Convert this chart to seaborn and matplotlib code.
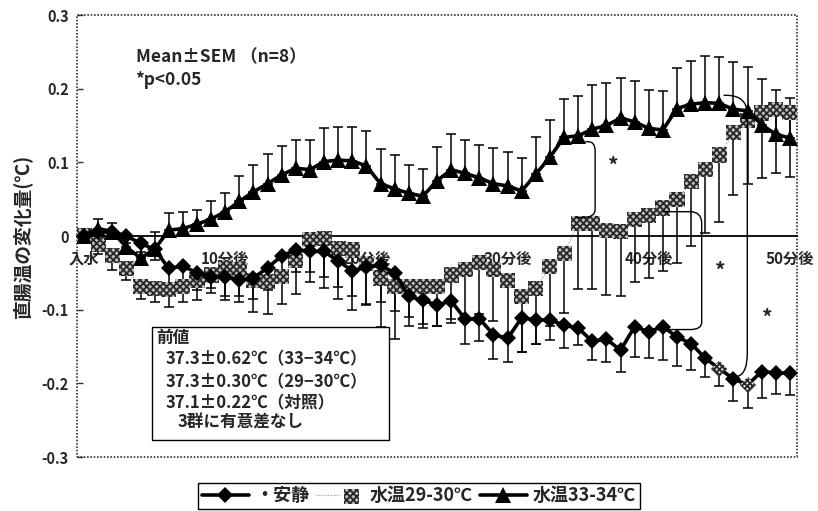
import numpy as np
import pandas as pd
import matplotlib
matplotlib.use("Agg")
import matplotlib.pyplot as plt
from matplotlib.path import Path
from matplotlib.patches import PathPatch, Rectangle
from matplotlib.lines import Line2D
from matplotlib.legend_handler import HandlerTuple
import seaborn as sns

# ---- data: change in rectal temperature (deg C), mean and SEM per minute ----
minutes = list(range(51))

rest_mean = [0.000, 0.005, 0.006, 0.000, -0.010, -0.018, -0.044, -0.041, -0.050, -0.055,
             -0.055, -0.060, -0.057, -0.043, -0.027, -0.019, -0.021, -0.021, -0.034, -0.047,
             -0.042, -0.040, -0.050, -0.082, -0.087, -0.094, -0.088, -0.113, -0.112, -0.134,
             -0.139, -0.111, -0.114, -0.114, -0.121, -0.125, -0.143, -0.140, -0.155, -0.123,
             -0.130, -0.123, -0.137, -0.146, -0.166, -0.180, -0.194, -0.202, -0.184, -0.186,
             -0.186]
rest_sem = [0.005, 0.008, 0.010, 0.010, 0.012, 0.015, 0.020, 0.020, 0.023, 0.016,
            0.032, 0.029, 0.028, 0.030, 0.025, 0.030, 0.028, 0.035, 0.035, 0.034,
            0.050, 0.050, 0.052, 0.028, 0.032, 0.028, 0.030, 0.034, 0.031, 0.033,
            0.032, 0.046, 0.032, 0.027, 0.031, 0.023, 0.025, 0.031, 0.029, 0.041,
            0.036, 0.045, 0.040, 0.036, 0.025, 0.024, 0.030, 0.032, 0.036, 0.028,
            0.030]
rest_patterned = [45, 47]

w29_mean = [0.001, -0.012, -0.026, -0.044, -0.068, -0.071, -0.073, -0.069, -0.060, -0.053,
            -0.043, -0.046, -0.060, -0.062, -0.055, -0.033, -0.005, -0.004, -0.017, -0.019,
            -0.037, -0.057, -0.069, -0.069, -0.069, -0.069, -0.053, -0.045, -0.036, -0.045,
            -0.061, -0.082, -0.071, -0.042, -0.024, 0.017, 0.017, 0.008, 0.006, 0.023,
            0.028, 0.038, 0.049, 0.074, 0.090, 0.110, 0.140, 0.157, 0.167, 0.172,
            0.168]
w29_sem = [0.005, 0.012, 0.020, 0.016, 0.018, 0.018, 0.023, 0.020, 0.027, 0.025,
           0.038, 0.035, 0.043, 0.044, 0.037, 0.046, 0.058, 0.067, 0.068, 0.082,
           0.057, 0.066, 0.071, 0.053, 0.056, 0.053, 0.060, 0.070, 0.070, 0.071,
           0.080, 0.076, 0.075, 0.080, 0.081, 0.089, 0.089, 0.088, 0.087, 0.086,
           0.085, 0.085, 0.085, 0.088, 0.086, 0.091, 0.084, 0.086, 0.088, 0.086,
           0.088]

w33_mean = [0.000, 0.010, 0.006, -0.015, -0.030, -0.018, 0.008, 0.010, 0.016, 0.023,
            0.033, 0.047, 0.060, 0.071, 0.083, 0.092, 0.090, 0.101, 0.103, 0.102,
            0.095, 0.071, 0.064, 0.058, 0.054, 0.075, 0.090, 0.085, 0.079, 0.071,
            0.068, 0.061, 0.084, 0.107, 0.134, 0.136, 0.145, 0.150, 0.160, 0.155,
            0.146, 0.144, 0.173, 0.179, 0.181, 0.180, 0.172, 0.170, 0.151, 0.138,
            0.133]
w33_sem = [0.010, 0.013, 0.012, 0.015, 0.020, 0.024, 0.023, 0.022, 0.019, 0.024,
           0.025, 0.034, 0.036, 0.040, 0.039, 0.038, 0.040, 0.046, 0.045, 0.046,
           0.047, 0.047, 0.046, 0.038, 0.037, 0.046, 0.048, 0.045, 0.045, 0.049,
           0.046, 0.045, 0.050, 0.051, 0.052, 0.054, 0.060, 0.058, 0.055, 0.056,
           0.052, 0.053, 0.055, 0.058, 0.064, 0.063, 0.064, 0.060, 0.062, 0.060,
           0.055]

series_names = ["・安静", "水温29-30℃", "水温33-34℃"]
tick_minutes = [0, 10, 20, 30, 40, 50]
tick_labels = ["入水", "10分後", "20分後", "30分後", "40分後", "50分後"]
y_ticks = [-0.3, -0.2, -0.1, 0.0, 0.1, 0.2, 0.3]
y_tick_labels = ["-0.3", "-0.2", "-0.1", "0", "0.1", "0.2", "0.3"]

# ---- style ----
sns.set_theme(style="white")
plt.rcParams["font.family"] = ["Noto Sans CJK JP", "DejaVu Sans"]
plt.rcParams["font.weight"] = "bold"
plt.rcParams["hatch.color"] = "#262626"
plt.rcParams["hatch.linewidth"] = 1.3

CHECKER = "xxxxx"

fig = plt.figure(figsize=(8.18, 5.11), dpi=100)
ax = fig.add_axes([77 / 818, 54 / 511, 720 / 818, 442 / 511])

df = pd.DataFrame({
    "minute": minutes,
    "rest": rest_mean, "rest_sem": rest_sem,
    "w29": w29_mean, "w29_sem": w29_sem,
    "w33": w33_mean, "w33_sem": w33_sem,
})
zeros = np.zeros(len(df))

# one-sided error bars: rest and 29-30 downward, 33-34 upward
eb_kw = dict(fmt="none", ecolor="black", elinewidth=1.1, capsize=3.3, capthick=1.1, zorder=2)
ax.errorbar(df["minute"], df["rest"], yerr=[df["rest_sem"], zeros], **eb_kw)
ax.errorbar(df["minute"], df["w29"], yerr=[df["w29_sem"], zeros], **eb_kw)
ax.errorbar(df["minute"], df["w33"], yerr=[zeros, df["w33_sem"]], **eb_kw)

# 29-30 deg C: checkered squares on a faint dotted line
sns.lineplot(data=df, x="minute", y="w29", ax=ax, color="#888888", linewidth=0.8,
             linestyle=":", errorbar=None, zorder=3, legend=False)
sns.scatterplot(data=df, x="minute", y="w29", ax=ax, marker="s", s=118,
                facecolor="#bdbdbd", edgecolor="#262626", linewidth=0,
                hatch=CHECKER, zorder=3.2, legend=False)
sq_coll = ax.collections[-1]

# rest: black line with diamonds
sns.lineplot(data=df, x="minute", y="rest", ax=ax, color="black", linewidth=2.6,
             marker="D", markersize=7.8, markeredgewidth=0, errorbar=None,
             zorder=4, legend=False)
df_pat = df[df["minute"].isin(rest_patterned)]
sns.scatterplot(data=df_pat, x="minute", y="rest", ax=ax, marker="D", s=61,
                facecolor="#e0e0e0", edgecolor="#262626", linewidth=0,
                hatch="xxxxxx", zorder=4.2, legend=False)

# 33-34 deg C: black line with triangles
sns.lineplot(data=df, x="minute", y="w33", ax=ax, color="black", linewidth=2.6,
             marker="^", markersize=11, markeredgewidth=0, errorbar=None,
             zorder=5, legend=False)

# ---- axes ----
ax.set_xlim(-0.5, 50.5)
ax.set_ylim(-0.3, 0.3)
ax.set_xlabel("")
ax.set_ylabel("")
for side in ["top", "right", "left"]:
    ax.spines[side].set_visible(False)
ax.spines["bottom"].set_position(("data", 0))
ax.spines["bottom"].set_color("black")
ax.spines["bottom"].set_linewidth(1.3)
ax.spines["bottom"].set_zorder(1.5)

ax.set_xticks(np.arange(0.5, 50, 1))
ax.set_xticklabels([])
ax.set_xticks(tick_minutes, tick_labels, minor=True)
ax.tick_params(axis="x", which="major", direction="in", length=4, width=1, color="black")
ax.tick_params(axis="x", which="minor", length=0, pad=10.5, labelsize=11)
for lab in ax.get_xticklabels(minor=True):
    lab.set_fontweight("bold")

ax.set_yticks(y_ticks, y_tick_labels)
ax.tick_params(axis="y", direction="in", length=4, width=1, color="#333333",
               left=True, pad=6, labelsize=10.5)
for lab in ax.get_yticklabels():
    lab.set_fontweight("bold")

# dotted plot-area frame
ax.add_patch(Rectangle((0, 0), 1, 1, transform=ax.transAxes, fill=False,
                       edgecolor="#333333", linewidth=1.2, linestyle=(0, (1, 1)),
                       zorder=1, clip_on=False))

fig.text(22 / 818, 1 - 236 / 511, "直腸温の変化量(℃)", rotation=90,
         ha="center", va="center", fontsize=13.5, fontweight="bold")

# ---- annotations ----
ax.text(3.65, 0.243, "Mean±SEM （n=8）", fontsize=12.5, fontweight="bold", va="center")
ax.text(3.65, 0.212, "*p<0.05", fontsize=12.5, fontweight="bold", va="center")

ax.add_patch(Rectangle((4.8, -0.277), 16.8, 0.154, fill=False, edgecolor="black",
                       linewidth=1.0, zorder=6))
info_lines = [(5.1, -0.139, "前値"),
              (5.8, -0.168, "37.3±0.62℃（33−34℃）"),
              (5.8, -0.198, "37.3±0.30℃（29−30℃）"),
              (5.8, -0.227, "37.1±0.22℃（対照）"),
              (6.6, -0.254, "3群に有意差なし")]
for x0, y0, s in info_lines:
    ax.text(x0, y0, s, fontsize=12, fontweight="bold", va="center", zorder=7)


def bracket(x_start, y_top, x_right, y_bot, x_end, rx_t, ry_t, rx_b, ry_b):
    verts = [(x_start, y_top), (x_right - rx_t, y_top), (x_right, y_top),
             (x_right, y_top - ry_t), (x_right, y_bot + ry_b), (x_right, y_bot),
             (x_right - rx_b, y_bot), (x_end, y_bot)]
    codes = [Path.MOVETO, Path.LINETO, Path.CURVE3, Path.CURVE3, Path.LINETO,
             Path.CURVE3, Path.CURVE3, Path.LINETO]
    ax.add_patch(PathPatch(Path(verts, codes), fill=False, edgecolor="black",
                           linewidth=1.0, zorder=6))


bracket(35.5, 0.128, 36.2, 0.025, 34.8, 0.5, 0.012, 0.9, 0.011)
bracket(41.0, 0.033, 43.75, -0.127, 41.3, 0.8, 0.016, 0.8, 0.010)
bracket(45.3, 0.191, 46.98, -0.191, 46.0, 1.5, 0.026, 0.9, 0.032)
for xs, ys in [(37.5, 0.094), (45.1, -0.048), (48.4, -0.112)]:
    ax.text(xs, ys, "*", fontsize=15, fontweight="bold", ha="center", va="center")

# ---- legend ----
h_rest = Line2D([], [], color="black", linewidth=2.6, marker="D", markersize=7.8,
                markeredgewidth=0)
h_w29_line = Line2D([], [], color="#888888", linewidth=0.8, linestyle=":")
h_w33 = Line2D([], [], color="black", linewidth=2.6, marker="^", markersize=11,
               markeredgewidth=0)
leg = fig.legend([h_rest, (h_w29_line, sq_coll), h_w33], series_names,
                 handler_map={tuple: HandlerTuple(ndivide=None, pad=0)},
                 loc="center", bbox_to_anchor=(0.512, 0.03), ncol=3,
                 frameon=True, fancybox=False, edgecolor="black", framealpha=1,
                 prop={"weight": "bold", "size": 13}, handlelength=2.6,
                 handletextpad=0.35, columnspacing=0.4, borderpad=0.2,
                 scatterpoints=1)
leg.get_frame().set_linewidth(1.0)

fig.savefig("out.png", dpi=100)
